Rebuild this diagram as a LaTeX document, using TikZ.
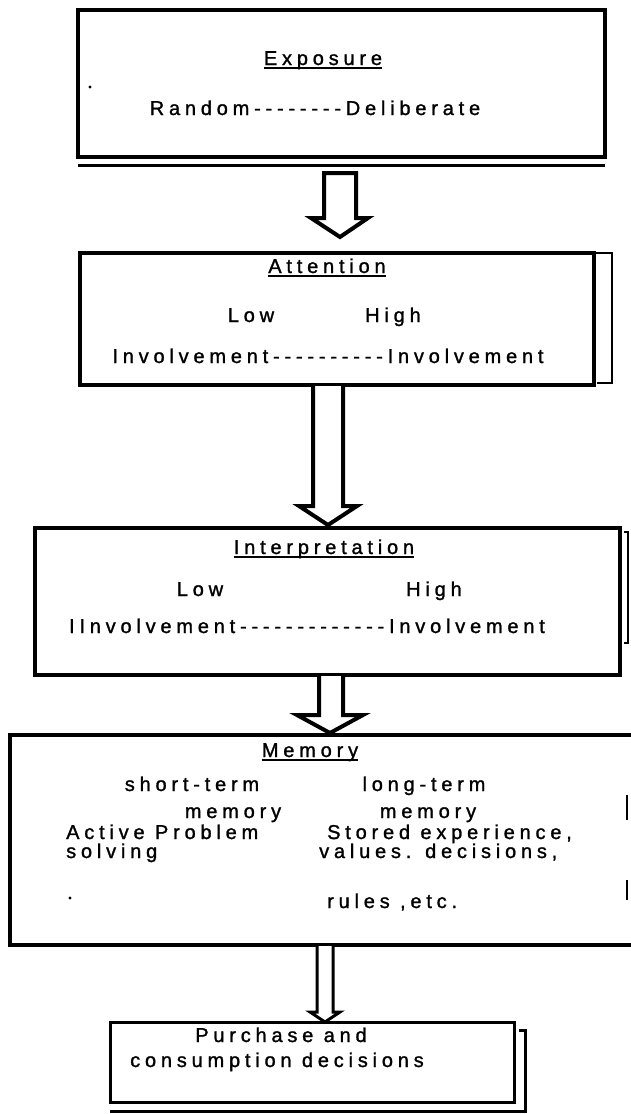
\documentclass[tikz,border=0pt]{standalone}
\usepackage{fontspec}
\newfontfamily\lsf{Liberation Sans}[LetterSpace=24,Ligatures=TeXOff,FakeBold=1.3]
\tikzset{
  lbl/.style={font=\lsf\fontsize{20}{22}\selectfont, inner sep=0pt, anchor=base},
  lblw/.style={lbl, anchor=base west},
  boxline/.style={line width=4pt, line join=miter},
  thinline/.style={line width=2.5pt},
  blockarrow/.style={draw, line width=4pt, fill=white, line join=miter},
  uline/.style={line width=1.5pt},
}
\begin{document}
\begin{tikzpicture}[x=1pt,y=-1pt]
\useasboundingbox[fill=white] (0,0) rectangle (630,1114);

% ---------- Box 1: Exposure
\draw[boxline] (78,10) rectangle (605,157);
\draw[line width=3pt] (78,165) -- (605,165);
\node[lbl] (exp) at (323,65) {Exposure};
\draw[uline] ([yshift=-3pt]exp.base west) -- ([yshift=-3pt]exp.base east);
\node[lbl] (rnd) at (315,115) {Random--------Deliberate};
\fill (90,87) circle (1.6);

% ---------- Arrow 1
\draw[blockarrow] (324,173) -- (324,218) -- (311,218) -- (340,237) -- (368,218) -- (356,218) -- (356,173) -- cycle;

% ---------- Box 2: Attention
\draw[boxline] (80,253) rectangle (594,385);
\draw[thinline] (594,253) -- (612,253) -- (612,383) -- (597,383);
\node[lbl] (att) at (327,273) {Attention};
\draw[uline] ([yshift=-3pt]att.base west) -- ([yshift=-3pt]att.base east);
\node[lbl] (alow) at (251,322) {Low};
\node[lbl] (ahigh) at (393,322) {High};
\node[lbl] (ainv) at (328,363) {Involvement----------Involvement};

% ---------- Arrow 2
\draw[blockarrow] (313,386) -- (313,506) -- (299,506) -- (328,525) -- (357,506) -- (343,506) -- (343,386);

% ---------- Box 3: Interpretation
\draw[boxline] (35,528) rectangle (620,675);
\draw[line width=2pt] (624,532) -- (628,532) -- (628,643) -- (624,643);
\node[lbl] (int) at (324,554) {Interpretation};
\draw[uline] ([yshift=-3pt]int.base west) -- ([yshift=-3pt]int.base east);
\node[lbl] (ilow) at (200,596) {Low};
\node[lbl] (ihigh) at (434,596) {High};
\node[lbl] (iinv) at (307,633) {IInvolvement-------------Involvement};

% ---------- Arrow 3
\draw[blockarrow] (319,676) -- (319,715) -- (297,715) -- (330,733) -- (363,715) -- (343,715) -- (343,676);

% ---------- Box 4: Memory
\draw[boxline] (632,735) -- (10,735) -- (10,945) -- (632,945);
\draw[line width=2pt] (627,795) -- (627,820);
\draw[line width=2pt] (627,880) -- (627,900);
\node[lbl] (mem) at (310,757) {Memory};
\draw[uline] ([yshift=-3pt]mem.base west) -- ([yshift=-3pt]mem.base east);
\node[lbl] (st) at (192,791) {short-term};
\node[lbl] (lt) at (424,791) {long-term};
\node[lbl] (stm) at (233,818) {memory};
\node[lbl] (ltm) at (428,818) {memory};
\node[lblw] (ap) at (66,839) {Active Problem};
\node[lblw] (se) at (327,839) {Stored experience,};
\node[lblw] (sv) at (66,858) {solving};
\node[lblw] (vd) at (319,858) {values. decisions,};
\node[lblw] (ru) at (327,908) {rules ,etc.};
\fill (70,898) circle (1.6);

% ---------- Arrow 4
\draw[blockarrow, line width=3pt] (317,946) -- (317,1012) -- (310,1012) -- (325,1022) -- (340,1012) -- (333,1012) -- (333,946);

% ---------- Box 5: Purchase
\draw[line width=3pt] (110,1022) rectangle (514,1102);
\draw[line width=3pt] (519,1030) -- (525,1030) -- (525,1111) -- (110,1111);
\node[lbl] (pur) at (281,1042) {Purchase and};
\node[lbl] (con) at (277,1067) {consumption decisions};
\end{tikzpicture}
\end{document}
